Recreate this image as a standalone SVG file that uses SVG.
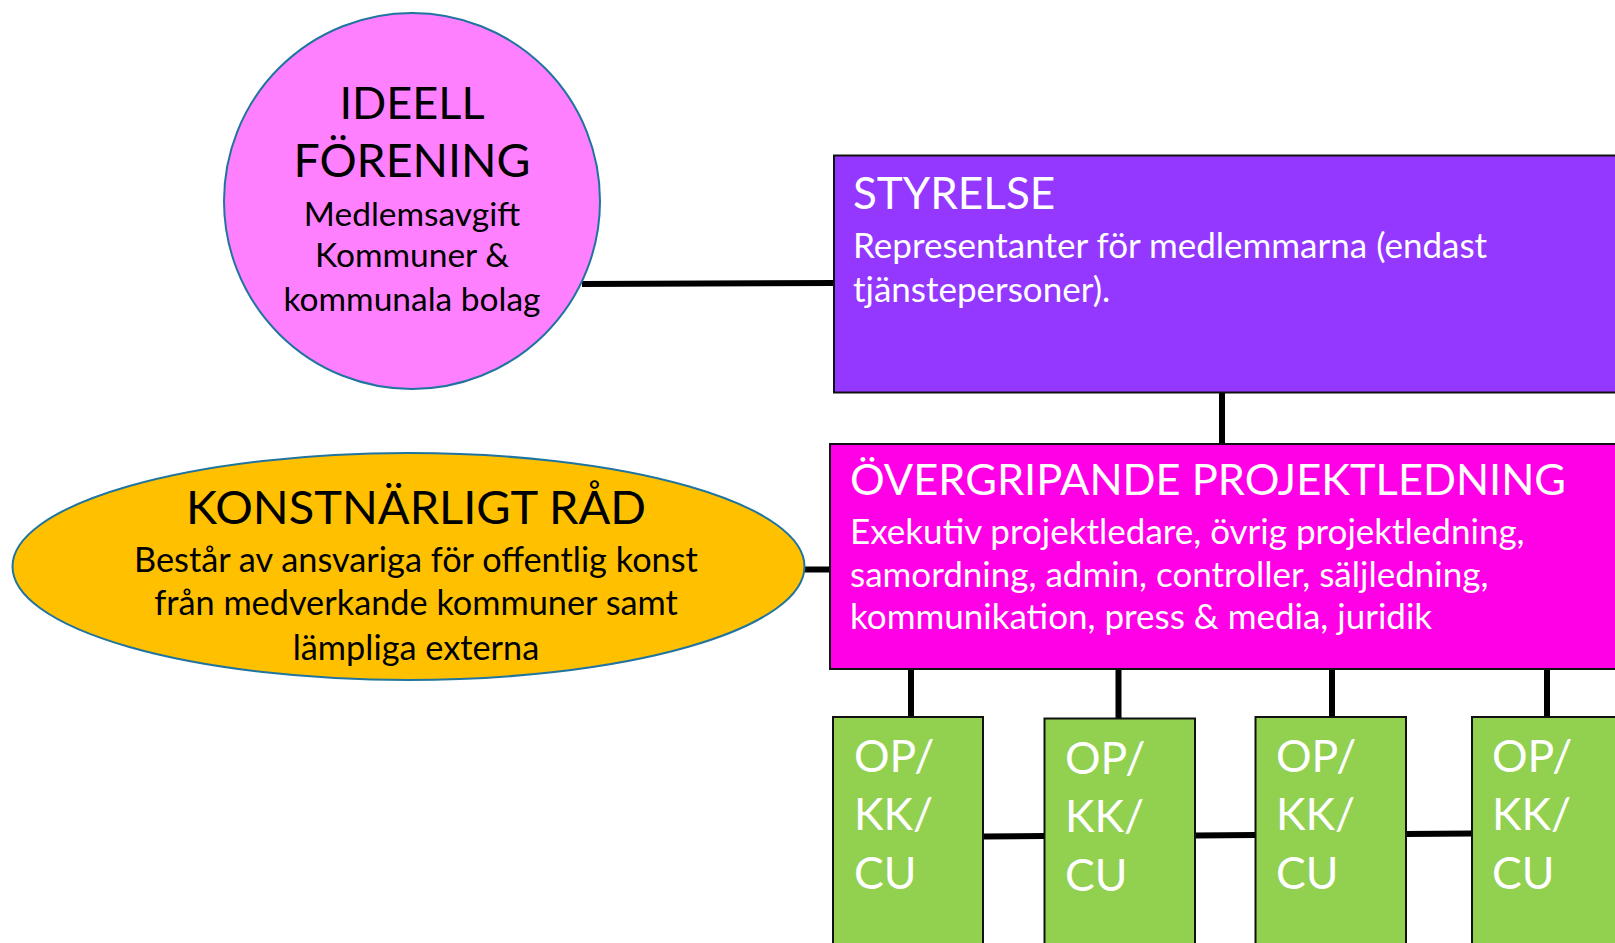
<svg xmlns="http://www.w3.org/2000/svg" width="1615" height="943" viewBox="0 0 1615 943">
<style>
text{font-family:"Lato","Open Sans","Liberation Sans",sans-serif;}
.blk{fill:#000;}
.wht{fill:#fff;}
.conn{stroke:#000;stroke-width:6;fill:none;}
.box{stroke:#111;stroke-width:2;}
.oval{stroke:#1f74a0;stroke-width:2;}
.green{fill:#92d050;}
.gt{fill:#fff;font-size:44.5px;}
</style>
<rect width="1615" height="943" fill="#fff"/>
<g id="connectors">
<line class="conn" x1="582" y1="284" x2="834" y2="283"/>
<line class="conn" x1="1222" y1="392" x2="1222" y2="444"/>
<line class="conn" x1="804" y1="569.5" x2="830" y2="569.5"/>
<line class="conn" x1="911" y1="669" x2="911" y2="717"/>
<line class="conn" x1="1118.5" y1="669" x2="1118.5" y2="718"/>
<line class="conn" x1="1332" y1="669" x2="1332" y2="717"/>
<line class="conn" x1="1547" y1="669" x2="1547" y2="717"/>
<line class="conn" x1="983" y1="836.5" x2="1044.5" y2="836"/>
<line class="conn" x1="1195" y1="835.5" x2="1255.5" y2="835"/>
<line class="conn" x1="1406" y1="834" x2="1472" y2="833.5"/>
</g>
<g id="ideell">
<ellipse class="oval" cx="412" cy="201" rx="188" ry="188" fill="#ff80ff"/>
<text class="blk" text-anchor="middle" font-size="45" x="412" y="119">IDEELL</text>
<text class="blk" text-anchor="middle" font-size="46.5" x="412" y="177">FÖRENING</text>
<text class="blk" text-anchor="middle" font-size="33.5" x="412" y="226">Medlemsavgift</text>
<text class="blk" text-anchor="middle" font-size="33.5" x="412" y="267">Kommuner &amp;</text>
<text class="blk" text-anchor="middle" font-size="33.5" x="412" y="311">kommunala bolag</text>
</g>
<g id="styrelse">
<rect class="box" x="834" y="155.5" width="800" height="237" fill="#9538ff"/>
<text class="wht" font-size="44" x="853" y="209">STYRELSE</text>
<text class="wht" font-size="35" x="853" y="257.5">Representanter för medlemmarna (endast</text>
<text class="wht" font-size="35" x="853" y="302">tjänstepersoner).</text>
</g>
<g id="konst">
<ellipse class="oval" cx="408.5" cy="566.5" rx="396" ry="113.5" fill="#ffc000"/>
<text class="blk" text-anchor="middle" font-size="47" x="416" y="524">KONSTNÄRLIGT RÅD</text>
<text class="blk" text-anchor="middle" font-size="34.3" x="416" y="571.5">Består av ansvariga för offentlig konst</text>
<text class="blk" text-anchor="middle" font-size="34.3" x="416" y="615">från medverkande kommuner samt</text>
<text class="blk" text-anchor="middle" font-size="34.3" x="416" y="660">lämpliga externa</text>
</g>
<g id="projektledning">
<rect class="box" x="830" y="444" width="800" height="225" fill="#ff00e6"/>
<text class="wht" font-size="43.4" x="850" y="495">ÖVERGRIPANDE PROJEKTLEDNING</text>
<text class="wht" font-size="35" x="850" y="544">Exekutiv projektledare, övrig projektledning,</text>
<text class="wht" font-size="35" x="850" y="587">samordning, admin, controller, säljledning,</text>
<text class="wht" font-size="35" x="850" y="629">kommunikation, press &amp; media, juridik</text>
</g>
<g id="op1">
<rect class="box green" x="833" y="717" width="150" height="240"/>
<text class="gt" x="854" y="772">OP/</text>
<text class="gt" x="854" y="830">KK/</text>
<text class="gt" x="854" y="889">CU</text>
</g>
<g id="op2">
<rect class="box green" x="1044.5" y="718.5" width="150.5" height="240"/>
<text class="gt" x="1065" y="774">OP/</text>
<text class="gt" x="1065" y="832">KK/</text>
<text class="gt" x="1065" y="891">CU</text>
</g>
<g id="op3">
<rect class="box green" x="1255.5" y="717" width="150.5" height="240"/>
<text class="gt" x="1276" y="772">OP/</text>
<text class="gt" x="1276" y="830">KK/</text>
<text class="gt" x="1276" y="889">CU</text>
</g>
<g id="op4">
<rect class="box green" x="1472" y="717" width="160" height="240"/>
<text class="gt" x="1492" y="772">OP/</text>
<text class="gt" x="1492" y="830">KK/</text>
<text class="gt" x="1492" y="889">CU</text>
</g>
</svg>
